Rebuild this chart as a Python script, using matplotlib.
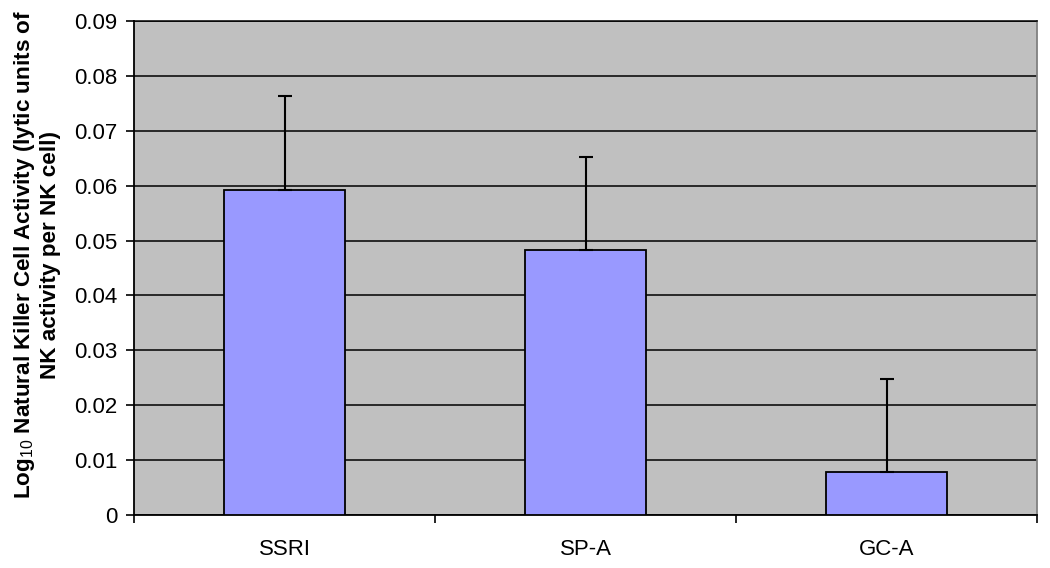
import matplotlib
matplotlib.use("Agg")
import matplotlib.pyplot as plt
import numpy as np

categories = ["SSRI", "SP-A", "GC-A"]
values = [0.0593, 0.0483, 0.0079]
errors = [0.0170, 0.0169, 0.0169]
yticks = [0, 0.01, 0.02, 0.03, 0.04, 0.05, 0.06, 0.07, 0.08, 0.09]
ytick_labels = ["0", "0.01", "0.02", "0.03", "0.04", "0.05", "0.06", "0.07", "0.08", "0.09"]

plt.rcParams['font.family'] = ['Liberation Sans', 'DejaVu Sans']
plt.rcParams['mathtext.fontset'] = 'custom'
plt.rcParams['mathtext.rm'] = 'Liberation Sans'
plt.rcParams['mathtext.bf'] = 'Liberation Sans:bold'

fig = plt.figure(figsize=(10.5, 5.68), dpi=100)
ax = fig.add_axes([134/1050, 1-515/568, (1037-134)/1050, (515-21)/568])
ax.set_facecolor("#C0C0C0")

x = np.arange(len(categories))
ax.bar(x, values, width=0.4, color="#9999FF", edgecolor="black", linewidth=1.3, zorder=3)
ax.errorbar(x, values, yerr=[np.zeros(len(errors)), errors], fmt="none", ecolor="black",
            elinewidth=1.5, capsize=5, capthick=1.5, zorder=4)

ax.set_ylim(0, 0.09)
ax.set_xlim(-0.5, len(categories) - 0.5)
ax.set_yticks(yticks)
ax.set_yticklabels(ytick_labels, fontsize=16)
ax.yaxis.grid(True, color="black", linewidth=1.1, zorder=1)
ax.set_axisbelow(True)

ax.set_xticks(x)
ax.set_xticklabels(categories, fontsize=16)
ax.tick_params(axis="x", which="major", length=0, pad=17)
ax.set_xticks(np.arange(len(categories) + 1) - 0.5, minor=True)
ax.tick_params(axis="x", which="minor", length=6, width=1.2, direction="out", color="black")
ax.tick_params(axis="y", length=6, width=1.2, direction="out", pad=6)

for s in ["left", "bottom"]:
    ax.spines[s].set_color("black")
    ax.spines[s].set_linewidth(1.3)
ax.spines["top"].set_color("black")
ax.spines["top"].set_linewidth(1.1)
ax.spines["right"].set_color("#808080")
ax.spines["right"].set_linewidth(1.3)

ax.set_ylabel("Log$_{\\mathrm{10}}$ Natural Killer Cell Activity (lytic units of\nNK activity per NK cell)",
              fontsize=16.2, fontweight="bold", linespacing=1.15)
ax.yaxis.set_label_coords(-0.081, 0.527)

fig.savefig("out.png", dpi=100)
